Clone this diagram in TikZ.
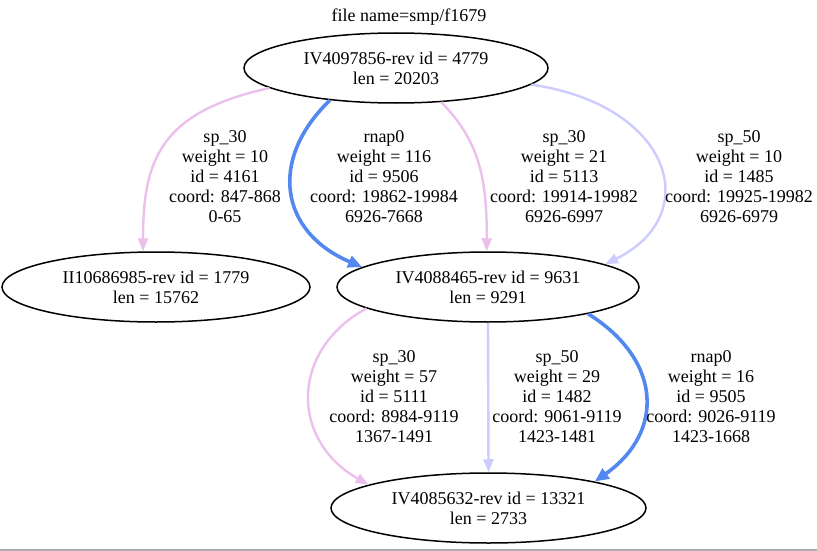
\documentclass[tikz,border=0pt]{standalone}
\usepackage{fontspec}
\setmainfont{Liberation Serif}
\usetikzlibrary{shapes.geometric,arrows.meta}
\definecolor{pinkedge}{RGB}{236,192,236}
\definecolor{lavedge}{RGB}{204,204,255}
\definecolor{blueedge}{RGB}{82,136,240}
\begin{document}
\begin{tikzpicture}[x=1pt,y=-1pt,
  every node/.style={font=\fontsize{18}{20}\selectfont, align=center},
  oval/.style={ellipse, draw=black, line width=1.5pt, minimum height=70pt, inner sep=0pt},
  lbl/.style={inner sep=0pt},
  pinkline/.style={draw=pinkedge, line width=2.4pt, -{Triangle[length=13pt,width=10pt]}},
  laveline/.style={draw=lavedge, line width=2.4pt, -{Triangle[length=13pt,width=10pt]}},
  blueline/.style={draw=blueedge, line width=3.6pt, -{Triangle[length=14pt,width=12pt]}}
]
\useasboundingbox (0,0) rectangle (817,551);
\draw[gray!65, line width=2pt] (0,549.5) -- (817,549.5);

\node[lbl] (title) at (409,17) {file name=smp/f1679};

\node[oval, minimum width=304pt] (top) at (396,68) {IV4097856-rev id = 4779\\len = 20203};
\node[oval, minimum width=308pt] (ii) at (156,287) {II10686985-rev id = 1779\\len = 15762};
\node[oval, minimum width=302pt] (mid) at (488,287) {IV4088465-rev id = 9631\\len = 9291};
\node[oval, minimum width=315pt] (bot) at (488.5,508) {IV4085632-rev id = 13321\\len = 2733};

% edges top -> ii / mid
\draw[pinkline] (top.189) .. controls (160,112) and (143,160) .. (ii.110);
\draw[blueline] (top.206) .. controls (268,160) and (280,232) .. (mid.171);
\draw[pinkline] (top.323) .. controls (478,140) and (487,175) .. (mid.92);
\draw[laveline] (top.353) .. controls (672,105) and (705,215) .. (mid.11);

% edges mid -> bot
\draw[pinkline] (mid.190) .. controls (290,350) and (290,440) .. (bot.169);
\draw[laveline] (mid.270) -- (bot.90);
\draw[blueline] (mid.345) .. controls (662,360) and (665,432) .. (bot.14);

% labels
\node[lbl] (l1) at (225,177) {sp\_30\\weight = 10\\id = 4161\\coord: 847-868\\0-65};
\node[lbl] (l2) at (384,177) {rnap0\\weight = 116\\id = 9506\\coord: 19862-19984\\6926-7668};
\node[lbl] (l3) at (564,177) {sp\_30\\weight = 21\\id = 5113\\coord: 19914-19982\\6926-6997};
\node[lbl] (l4) at (739,177) {sp\_50\\weight = 10\\id = 1485\\coord: 19925-19982\\6926-6979};
\node[lbl] (l5) at (394,397) {sp\_30\\weight = 57\\id = 5111\\coord: 8984-9119\\1367-1491};
\node[lbl] (l6) at (557,397) {sp\_50\\weight = 29\\id = 1482\\coord: 9061-9119\\1423-1481};
\node[lbl] (l7) at (711,397) {rnap0\\weight = 16\\id = 9505\\coord: 9026-9119\\1423-1668};
\end{tikzpicture}
\end{document}
